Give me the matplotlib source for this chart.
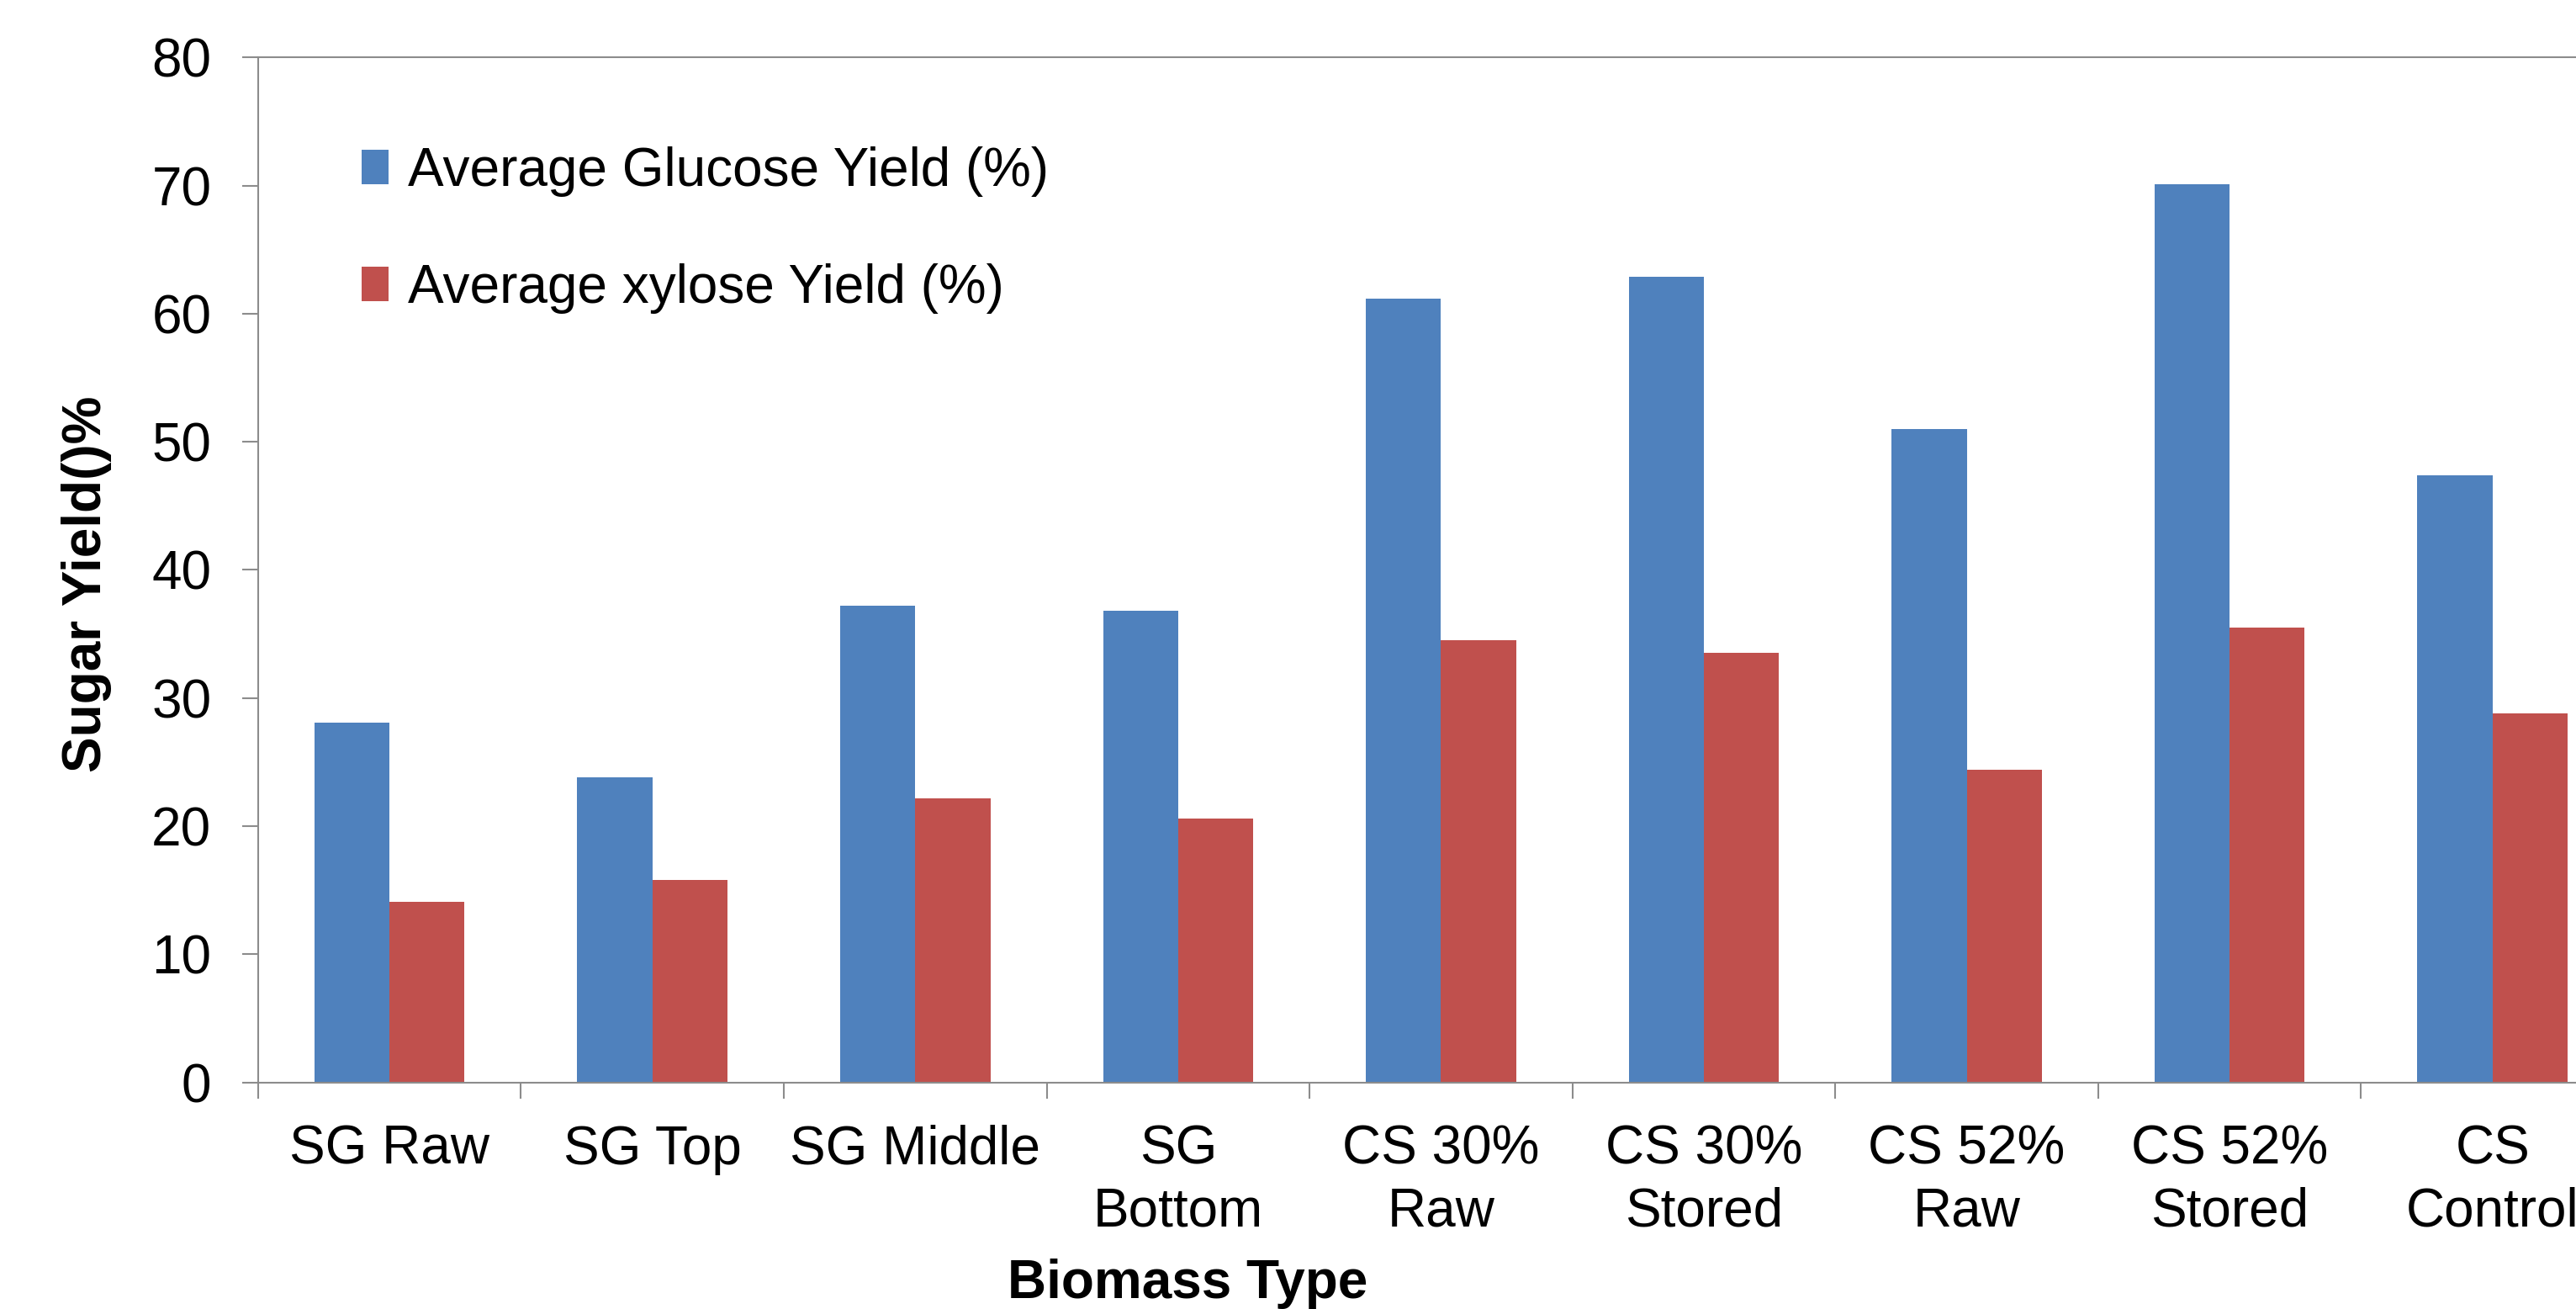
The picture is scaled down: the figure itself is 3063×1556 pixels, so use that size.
import numpy as np
import matplotlib
matplotlib.use("Agg")
import matplotlib.pyplot as plt

plt.rcParams['font.family'] = ['Liberation Sans', 'DejaVu Sans']

# sugar yields per biomass sample (%)
categories = ["SG Raw", "SG Top", "SG Middle", "SG\nBottom", "CS 30%\nRaw",
              "CS 30%\nStored", "CS 52%\nRaw", "CS 52%\nStored", "CS\nControl"]
glucose = [28.1, 23.8, 37.2, 36.8, 61.2, 62.9, 51.0, 70.1, 47.4]
xylose = [14.1, 15.8, 22.2, 20.6, 34.5, 33.5, 24.4, 35.5, 28.8]
y_ticks = [0, 10, 20, 30, 40, 50, 60, 70, 80]

blue = "#4F81BD"
red = "#C0504D"
grey = "#8C8C8C"
fs = 46

fig = plt.figure(figsize=(30.63, 15.56), dpi=100)
# plot area runs a little past the right edge of the canvas
ax = fig.add_axes([0.1002, 0.1731, 0.9184, 0.783])

x = np.arange(len(categories))
w = 1 / 3.5  # 150% gap width
b1 = ax.bar(x - w / 2, glucose, w, color=blue, label="Average Glucose Yield (%)")
b2 = ax.bar(x + w / 2, xylose, w, color=red, label="Average xylose Yield (%)")

ax.set_xlim(-0.5, len(categories) - 0.5)
ax.set_ylim(0, 80)
ax.set_yticks(y_ticks)
ax.set_xticks(x)
ax.set_xticklabels(categories, fontsize=fs, linespacing=1.3)
ax.set_xticks(np.arange(-0.5, len(categories), 1), minor=True)
ax.tick_params(axis='x', which='major', length=0, pad=36)
ax.tick_params(axis='x', which='minor', length=14, width=1.5, color=grey, direction='out')
ax.tick_params(axis='y', labelsize=fs, length=14, width=1.5, color=grey, pad=26)

for side in ['left', 'bottom', 'top', 'right']:
    ax.spines[side].set_color(grey)
    ax.spines[side].set_linewidth(1.5)

ax.legend(handles=[b1, b2], loc='upper left', bbox_to_anchor=(0.1405, 0.888),
          bbox_transform=fig.transFigure, frameon=False, fontsize=fs,
          handlelength=0.5, handleheight=0.6, handletextpad=0.35,
          labelspacing=1.23, borderpad=0, borderaxespad=0)

fig.text(0.461, 0.0, "Biomass Type", fontsize=fs, fontweight='bold',
         ha='center', va='bottom')
fig.text(0.0335, 0.5535, "Sugar Yield()%", fontsize=fs, fontweight='bold',
         rotation=90, ha='center', va='center')

fig.savefig("out.png", dpi=100)
